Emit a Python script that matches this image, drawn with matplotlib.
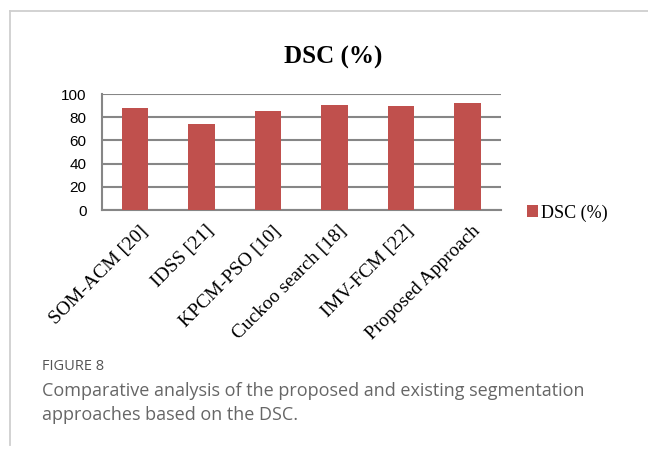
import numpy as np
import matplotlib.pyplot as plt
import matplotlib.transforms as mtransforms
from matplotlib.lines import Line2D

# data
methods = ['SOM-ACM [20]', 'IDSS [21]', 'KPCM-PSO [10]', 'Cuckoo search [18]',
           'IMV-FCM [22]', 'Proposed Approach']
dsc = [87.7, 74.1, 85.1, 90.5, 89.7, 92.0]
yticks = [0, 20, 40, 60, 80, 100]

W, H = 648, 450
fig = plt.figure(figsize=(W / 100, H / 100), dpi=100)
fig.patch.set_facecolor('white')

# outer panel frame (left and top edges)
fig.add_artist(Line2D([10 / W, 10 / W], [1 - 445 / H, 1 - 11 / H], color='#cfcfcf', lw=1.3))
fig.add_artist(Line2D([10 / W, 1.0], [1 - 11 / H, 1 - 11 / H], color='#cfcfcf', lw=1.3))

ax = fig.add_axes([101.75 / W, 1 - 210 / H, 399 / W, 116 / H])
x = np.arange(len(methods))
ax.bar(x, dsc, width=0.4, color='#C0504D', label='DSC (%)', zorder=3)
ax.set_xlim(-0.5, len(methods) - 0.5)
ax.set_ylim(0, 100)
ax.set_yticks(yticks)
ax.set_yticklabels([str(v) for v in yticks], family='Liberation Sans', fontsize=11)
ax.yaxis.grid(True, color='#868686', lw=1.5, zorder=0)
ax.tick_params(axis='y', length=0, pad=11)
ax.tick_params(axis='x', length=0, pad=9)
for s in ['top', 'right']:
    ax.spines[s].set_visible(False)
for s in ['left', 'bottom']:
    ax.spines[s].set_color('#868686')
    ax.spines[s].set_linewidth(1.5)

ax.set_xticks(x)
ax.set_xticklabels(methods, rotation=45, ha='right', va='top', rotation_mode='anchor',
                   family='Liberation Serif', fontsize=14)
off = mtransforms.ScaledTranslation(4 / 100, 0, fig.dpi_scale_trans)
for lab in ax.get_xticklabels():
    lab.set_transform(lab.get_transform() + off)

fig.text(333 / W, 1 - 57 / H, 'DSC (%)', ha='center', va='center',
         family='Liberation Serif', fontweight='bold', fontsize=18)

fig.legend(loc='center left', bbox_to_anchor=(527 / W, 1 - 213 / H), frameon=False,
           prop={'family': 'Liberation Serif', 'size': 13}, handlelength=0.6,
           handleheight=0.6, handletextpad=0.15, borderpad=0, borderaxespad=0)

fig.text(42 / W, 1 - 367 / H, 'FIGURE 8', ha='left', va='center', color='#555555',
         family='Open Sans', fontsize=10.5)
fig.text(42 / W, 1 - 391 / H, 'Comparative analysis of the proposed and existing segmentation',
         ha='left', va='center', color='#666666', family='Open Sans', fontsize=13)
fig.text(42 / W, 1 - 415 / H, 'approaches based on the DSC.',
         ha='left', va='center', color='#666666', family='Open Sans', fontsize=13)

plt.savefig('out.png', dpi=100)
